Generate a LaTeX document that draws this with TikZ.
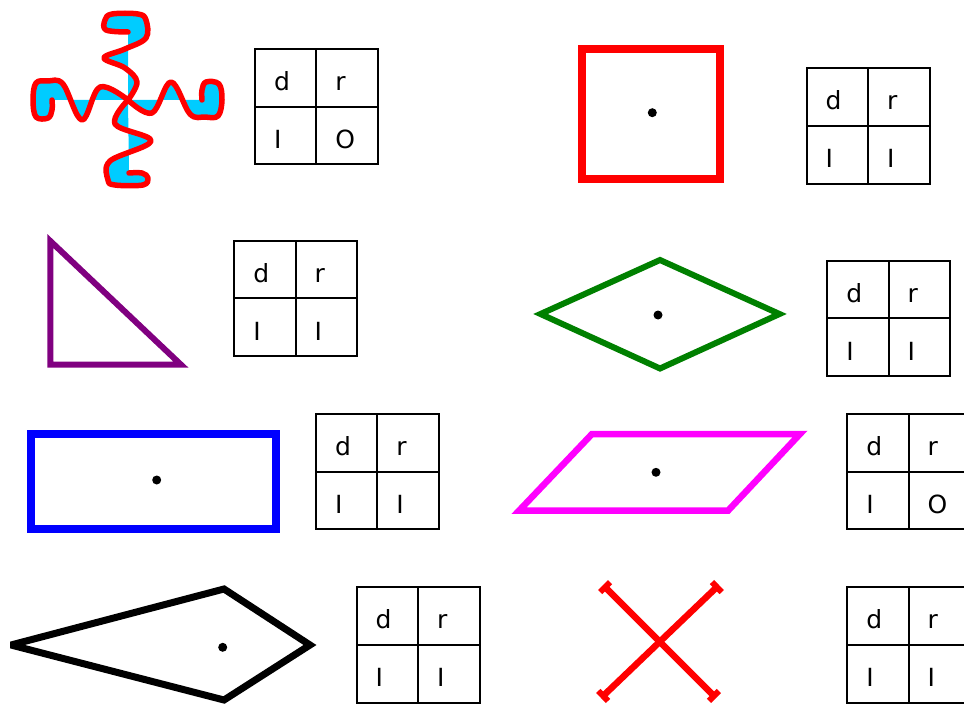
\documentclass[tikz,border=0pt]{standalone}
\usepackage{fontspec}
\setmainfont{DejaVu Sans}
\usetikzlibrary{positioning,arrows.meta}
\definecolor{WAVEBLUE}{RGB}{0,204,255}
\definecolor{DARKGREEN}{RGB}{0,128,0}
\definecolor{DARKPURPLE}{RGB}{128,0,128}
\definecolor{PINK}{RGB}{255,0,255}
\tikzset{CELL/.style={rectangle, draw, line width=2pt, minimum width=61.4pt, minimum height=57.7pt, inner xsep=19pt, inner ysep=0pt, outer sep=0pt, text width=23.4pt, align=left, font=\fontsize{25}{29}\selectfont, text height=25.5pt, text depth=0pt}}
\tikzset{DOT/.style={fill=black}}
\tikzset{BARS/.style={arrows={Rectangle[length=6pt,width=14pt]-Rectangle[length=6pt,width=14pt]}}}

\begin{document}
\begin{tikzpicture}[x=1pt, y=-1pt]
    \useasboundingbox (0,0) rectangle (964,706);

    % wavy cross
    \filldraw[fill=WAVEBLUE, draw=red, line width=5.5pt, line join=round, line cap=round]
        plot[smooth, tension=0.6] coordinates {(128,100) (137,82) (125,68) (104,58) (125,49) (146,38) (146,20) (138,14) (112,14) (105,20) (106,30) (128,32)}
        plot[smooth, tension=0.6] coordinates {(128,100) (152,113) (171,82) (190,114) (205,117) (218,116) (222,100) (219,84) (206,82) (202,90) (202,100)}
        plot[smooth, tension=0.6] coordinates {(128,100) (115,124) (151,141) (110,161) (108,180) (115,185) (143,185) (148,178) (142,173) (129,173)}
        plot[smooth, tension=0.6] coordinates {(128,100) (100,87) (82,120) (63,84) (48,81) (36,83) (33,100) (36,117) (48,118) (52,110) (52,100)};

    % shapes
    \draw[red, line width=8pt] (582,49) rectangle (719.5,178.7);
    \draw[DARKPURPLE, line width=6pt] (50.3,241) -- (50.3,364.7) -- (181,364.7) -- cycle;
    \draw[DARKGREEN, line width=6pt] (540.5,314) -- (660,260) -- (779.5,314) -- (660,368.5) -- cycle;
    \draw[blue, line width=8pt] (30.5,434) rectangle (275.5,529.3);
    \draw[PINK, line width=6.5pt] (592,434) -- (800,434) -- (728,510.7) -- (519,510.7) -- cycle;
    \draw[black, line width=7pt, miter limit=2] (11,645) -- (224,589) -- (310,645) -- (224,700) -- cycle;
    \draw[red, line width=6.5pt, BARS] (603,585) -- (716,698);
    \draw[red, line width=6.5pt, BARS] (719,585) -- (601,698);

    % centre dots
    \foreach \x/\y in {652.3/112.7, 658/315, 156.7/480, 656/472.3, 222.7/647.3}
        \fill[DOT] (\x,\y) circle (4.5pt);

    % tables
    \foreach \n/\x/\y/\o in {ta/255/49/O, tb/806.7/68.3/I, tc/234.3/240.7/I, td/827.3/260.7/I, te/316/414/I, tf/847.3/414/O, tg/356.7/587.3/I, th/847.3/587.3/I}{
        \node[CELL, anchor=north west] (\n-d) at (\x,\y) {d};
        \node[CELL, right=0pt of \n-d] (\n-r) {r};
        \node[CELL, below=0pt of \n-d] (\n-i) {I};
        \node[CELL, right=0pt of \n-i] (\n-o) {\o};
    }
\end{tikzpicture}
\end{document}
